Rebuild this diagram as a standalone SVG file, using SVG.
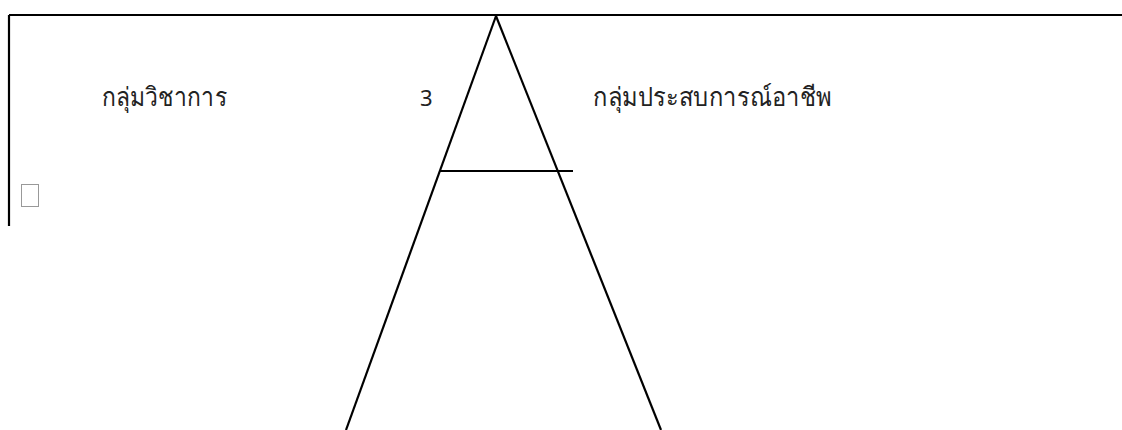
<svg xmlns="http://www.w3.org/2000/svg" width="1122" height="430" viewBox="0 0 1122 430">
<style>
.ln{stroke:#000;stroke-width:2.2;fill:none}
.t{font-family:"Noto Sans","DejaVu Sans",sans-serif;font-size:26px;fill:#222}
</style>
<rect width="1122" height="430" fill="#fff"/>
<g id="frame">
<path class="ln" d="M9,15 H1122 M9,15 V226"/>
</g>
<g id="connectors">
<path class="ln" d="M496,16 L346,430"/>
<path class="ln" d="M496,16 L661,430"/>
<path class="ln" d="M440,171 H573"/>
</g>
<g id="label-academic"><text class="t" x="102" y="106" textLength="125" lengthAdjust="spacingAndGlyphs">กลุ่มวิชาการ</text></g>
<g id="label-3"><text class="t" x="420" y="106" style="font-size:22px">3</text></g>
<g id="label-career"><text class="t" x="593" y="106" textLength="239" lengthAdjust="spacingAndGlyphs">กลุ่มประสบการณ์อาชีพ</text></g>
<g id="checkbox"><rect x="21.5" y="184.5" width="17" height="22" fill="#fff" stroke="#999" stroke-width="1"/></g>
</svg>
